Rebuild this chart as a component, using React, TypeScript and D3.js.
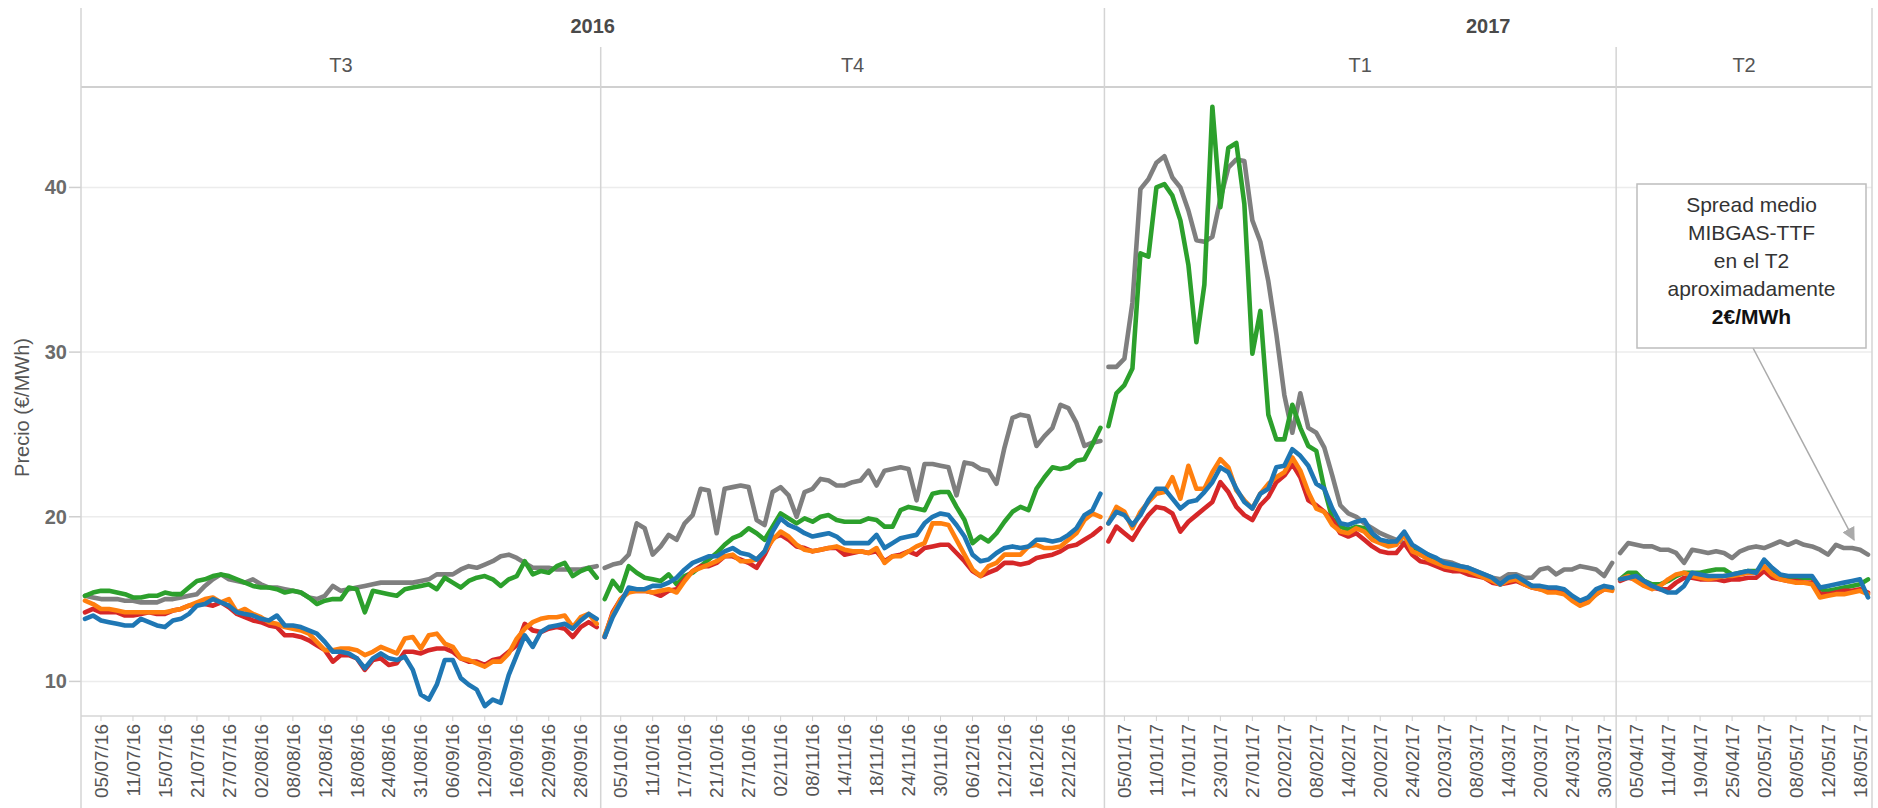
import React from 'react';
import * as d3 from 'd3';

// trimestres (paneles) y festivos sin cotización
const trimestres = [
  { anio: '2016', nombre: 'T3', inicio: '2016-07-01', fin: '2016-09-30' },
  { anio: '2016', nombre: 'T4', inicio: '2016-10-03', fin: '2016-12-30' },
  { anio: '2017', nombre: 'T1', inicio: '2017-01-02', fin: '2017-03-31' },
  { anio: '2017', nombre: 'T2', inicio: '2017-04-03', fin: '2017-05-19' },
];
const festivos = ['2016-08-29', '2016-12-26', '2016-12-27', '2017-01-02', '2017-04-14', '2017-04-17', '2017-05-01'];

const etiquetasX = [
  '05/07/16', '11/07/16', '15/07/16', '21/07/16', '27/07/16', '02/08/16', '08/08/16', '12/08/16',
  '18/08/16', '24/08/16', '31/08/16', '06/09/16', '12/09/16', '16/09/16', '22/09/16', '28/09/16',
  '05/10/16', '11/10/16', '17/10/16', '21/10/16', '27/10/16', '02/11/16', '08/11/16', '14/11/16',
  '18/11/16', '24/11/16', '30/11/16', '06/12/16', '12/12/16', '16/12/16', '22/12/16',
  '05/01/17', '11/01/17', '17/01/17', '23/01/17', '27/01/17', '02/02/17', '08/02/17', '14/02/17',
  '20/02/17', '24/02/17', '02/03/17', '08/03/17', '14/03/17', '20/03/17', '24/03/17', '30/03/17',
  '05/04/17', '11/04/17', '19/04/17', '25/04/17', '02/05/17', '08/05/17', '12/05/17', '18/05/17',
];
const ticksY = [10, 20, 30, 40];

// valores diarios (€/MWh) por trimestre
const grisT3 = [15.2,15.1,15.0,15.0,15.0,14.9,14.9,14.8,14.8,14.8,15.0,15.0,15.1,15.2,15.3,15.8,16.2,16.5,16.2,16.1,16.0,16.2,15.9,15.7,15.7,15.6,15.5,15.4,15.1,15.0,15.2,15.8,15.5,15.6,15.7,15.8,15.9,16.0,16.0,16.0,16.0,16.0,16.1,16.2,16.5,16.5,16.5,16.8,17.0,16.9,17.1,17.3,17.6,17.7,17.5,17.2,16.9,16.9,16.9,16.8,16.8,16.8,16.8,16.9,17.0];
const verdeT3 = [15.2,15.4,15.5,15.5,15.4,15.3,15.1,15.1,15.2,15.2,15.4,15.3,15.3,15.7,16.1,16.2,16.4,16.5,16.4,16.2,16.0,15.8,15.7,15.7,15.6,15.4,15.5,15.4,15.1,14.7,14.9,15.0,15.0,15.7,15.6,14.2,15.5,15.4,15.3,15.2,15.6,15.7,15.8,15.9,15.6,16.3,16.0,15.7,16.1,16.3,16.4,16.2,15.8,16.2,16.4,17.3,16.5,16.7,16.6,17.0,17.2,16.4,16.7,16.9,16.3];
const rojoT3 = [14.2,14.4,14.2,14.2,14.2,14.0,14.0,14.1,14.2,14.1,14.1,14.3,14.4,14.6,14.7,14.7,14.6,14.8,14.5,14.1,13.9,13.7,13.6,13.4,13.3,12.8,12.8,12.7,12.5,12.2,11.9,11.2,11.6,11.6,11.4,10.7,11.3,11.4,11.0,11.1,11.8,11.8,11.7,11.9,12.0,12.0,11.8,11.4,11.2,11.2,11.0,11.3,11.4,11.8,12.2,13.5,13.1,13.0,13.2,13.3,13.2,12.7,13.3,13.6,13.3];
const naranjaT3 = [14.9,14.7,14.4,14.4,14.3,14.2,14.2,14.2,14.2,14.2,14.2,14.3,14.4,14.6,14.8,15.0,15.1,14.8,15.0,14.2,14.4,14.1,13.9,13.6,13.5,13.3,13.2,13.1,12.9,12.4,11.9,11.9,12.0,12.0,11.9,11.6,11.8,12.1,11.9,11.7,12.6,12.7,12.0,12.8,12.9,12.3,12.1,11.4,11.3,11.1,10.9,11.2,11.2,11.7,12.6,13.2,13.6,13.8,13.9,13.9,14.0,13.3,13.9,14.1,13.5];
const azulT3 = [13.8,14.0,13.7,13.6,13.5,13.4,13.4,13.8,13.6,13.4,13.3,13.7,13.8,14.1,14.6,14.7,15.0,14.8,14.6,14.2,14.1,14.0,13.8,13.7,14.0,13.4,13.4,13.3,13.1,12.9,12.4,11.8,11.8,11.7,11.4,10.8,11.4,11.7,11.4,11.3,11.5,10.7,9.2,8.9,9.8,11.3,11.3,10.2,9.8,9.5,8.5,8.9,8.7,10.4,11.6,12.8,12.1,13.0,13.3,13.4,13.5,13.2,13.7,14.1,13.8];

const grisT4 = [16.9,17.1,17.2,17.7,19.6,19.3,17.7,18.2,18.9,18.6,19.6,20.1,21.7,21.6,19.0,21.7,21.8,21.9,21.8,19.8,19.5,21.5,21.8,21.3,20.0,21.5,21.7,22.3,22.2,21.9,21.9,22.1,22.2,22.8,21.9,22.8,22.9,23.0,22.9,21.0,23.2,23.2,23.1,23.0,21.3,23.3,23.2,22.9,22.8,22.0,24.2,26.0,26.2,26.1,24.3,24.9,25.4,26.8,26.6,25.7,24.3,24.5,24.6];
const verdeT4 = [15.0,16.1,15.5,17.0,16.6,16.3,16.2,16.1,16.5,15.9,16.4,16.6,17.0,17.4,17.8,18.3,18.7,18.9,19.3,19.0,18.6,19.4,20.2,19.9,19.6,19.9,19.7,20.0,20.1,19.8,19.7,19.7,19.7,19.9,19.8,19.4,19.4,20.4,20.6,20.5,20.4,21.4,21.5,21.5,20.6,19.8,18.4,18.8,18.5,19.0,19.7,20.3,20.6,20.4,21.7,22.4,23.0,22.9,23.0,23.4,23.5,24.4,25.4];
const rojoT4 = [12.7,14.2,15.0,15.5,15.5,15.5,15.4,15.2,15.5,15.6,16.2,16.7,17.0,17.0,17.2,17.6,17.6,17.4,17.2,16.9,17.7,18.7,18.9,18.6,18.2,18.1,17.9,18.0,18.1,18.1,17.7,17.8,17.9,17.8,17.9,17.3,17.6,17.7,17.9,17.7,18.1,18.2,18.3,18.3,17.8,17.3,16.7,16.4,16.6,16.8,17.2,17.2,17.1,17.2,17.5,17.6,17.7,17.9,18.2,18.3,18.6,18.9,19.3];
const naranjaT4 = [12.8,14.1,15.0,15.4,15.5,15.5,15.4,15.5,15.6,15.4,16.1,16.7,16.9,17.1,17.3,17.6,17.7,17.3,17.3,17.4,17.9,18.6,19.1,18.8,18.3,18.0,17.9,18.0,18.1,18.2,18.0,17.9,17.9,17.8,18.1,17.2,17.6,17.6,17.9,18.2,18.4,19.6,19.6,19.5,18.6,17.7,16.8,16.4,17.0,17.2,17.7,17.7,17.7,18.2,18.3,18.1,18.1,18.2,18.6,19.0,19.8,20.2,20.0];
const azulT4 = [12.7,13.9,14.8,15.7,15.6,15.6,15.8,15.8,16.0,16.3,16.8,17.2,17.4,17.6,17.6,17.9,18.1,17.8,17.7,17.4,17.9,19.1,19.9,19.5,19.3,19.0,18.8,18.9,19.0,18.8,18.4,18.4,18.4,18.4,18.9,18.1,18.4,18.7,18.8,18.9,19.6,20.0,20.2,20.1,19.5,18.8,17.7,17.3,17.4,17.8,18.1,18.2,18.1,18.2,18.6,18.6,18.5,18.6,18.9,19.3,20.1,20.4,21.4];

const grisT1 = [29.1,29.1,29.6,33.0,39.9,40.5,41.5,41.9,40.6,40.0,38.6,36.8,36.7,37.0,39.3,41.2,41.7,41.6,38.0,36.7,34.3,31.1,27.4,25.1,27.5,25.4,25.1,24.2,22.5,20.7,20.2,20.0,19.6,19.3,19.0,18.8,18.6,18.4,18.1,17.9,17.7,17.4,17.3,17.2,17.0,16.9,16.7,16.5,16.3,16.2,16.5,16.5,16.3,16.3,16.8,16.9,16.5,16.8,16.8,17.0,16.9,16.8,16.4,17.2];
const verdeT1 = [25.5,27.5,28.0,29.0,36.0,35.8,40.0,40.2,39.5,38.0,35.3,30.6,34.1,44.9,38.8,42.4,42.7,39.0,29.9,32.5,26.2,24.7,24.7,26.8,25.4,24.3,24.0,21.7,19.9,19.4,19.2,19.4,19.3,18.8,18.5,18.3,18.4,18.9,18.0,17.7,17.5,17.3,17.1,17.0,16.9,16.8,16.6,16.4,16.2,15.9,16.2,16.2,16.0,15.8,15.7,15.5,15.5,15.4,15.0,14.7,14.9,15.3,15.7,15.6];
const rojoT1 = [18.5,19.4,19.0,18.6,19.4,20.1,20.6,20.5,20.2,19.1,19.7,20.1,20.5,20.9,22.1,21.5,20.6,20.1,19.8,20.7,21.2,22.1,22.5,23.2,22.4,21.0,20.7,20.3,19.8,19.0,18.8,19.0,18.6,18.2,17.9,17.8,17.8,18.4,17.7,17.3,17.2,17.0,16.8,16.7,16.7,16.5,16.4,16.3,16.0,15.9,16.0,16.1,15.9,15.7,15.6,15.5,15.5,15.4,15.1,14.7,14.9,15.3,15.6,15.6];
const naranjaT1 = [19.6,20.6,20.3,19.3,20.3,20.9,21.4,21.5,22.4,21.1,23.1,21.7,21.7,22.7,23.5,23.0,21.6,21.0,20.5,21.4,22.0,22.4,22.7,23.6,22.8,21.5,20.5,20.3,19.5,19.1,19.0,19.3,19.1,18.6,18.4,18.2,18.3,18.9,17.9,17.7,17.4,17.2,17.0,16.9,16.8,16.7,16.5,16.3,16.1,15.9,16.1,16.2,15.9,15.7,15.6,15.4,15.4,15.3,14.9,14.6,14.8,15.3,15.6,15.5];
const azulT1 = [19.6,20.3,20.1,19.5,20.1,21.0,21.7,21.7,21.1,20.5,20.9,21.0,21.5,22.1,23.0,22.7,21.7,20.9,20.5,21.4,21.7,23.0,23.1,24.1,23.7,23.1,22.0,21.7,20.5,19.6,19.5,19.7,19.8,19.0,18.6,18.5,18.5,19.1,18.3,18.0,17.7,17.5,17.2,17.1,17.0,16.9,16.7,16.5,16.3,15.9,16.3,16.4,16.1,15.8,15.8,15.7,15.7,15.6,15.2,14.9,15.1,15.6,15.8,15.7];

const grisT2 = [17.8,18.4,18.3,18.2,18.2,18.0,18.0,17.8,17.2,18.0,17.9,17.8,17.9,17.8,17.5,17.9,18.1,18.2,18.1,18.3,18.5,18.3,18.5,18.3,18.2,18.0,17.7,18.3,18.1,18.1,18.0,17.7];
const verdeT2 = [16.2,16.6,16.6,16.1,15.9,15.9,16.1,16.4,16.6,16.6,16.6,16.7,16.8,16.8,16.5,16.6,16.7,16.7,16.9,16.6,16.4,16.3,16.3,16.3,16.3,15.6,15.5,15.6,15.7,15.8,15.9,16.2];
const rojoT2 = [16.1,16.3,16.2,15.9,15.7,15.6,15.6,16.0,16.3,16.3,16.2,16.2,16.2,16.1,16.2,16.2,16.3,16.3,16.7,16.3,16.2,16.1,16.1,16.0,16.0,15.3,15.3,15.4,15.5,15.5,15.6,15.4];
const naranjaT2 = [16.2,16.4,16.1,15.8,15.6,15.8,16.2,16.5,16.6,16.4,16.3,16.2,16.3,16.4,16.4,16.5,16.6,16.6,17.0,16.5,16.2,16.1,16.0,16.0,15.9,15.1,15.2,15.3,15.3,15.4,15.5,15.3];
const azulT2 = [16.2,16.3,16.4,16.1,15.8,15.6,15.4,15.4,15.8,16.6,16.5,16.4,16.4,16.4,16.5,16.6,16.7,16.6,17.4,16.9,16.5,16.4,16.4,16.4,16.4,15.7,15.8,15.9,16.0,16.1,16.2,15.1];

const series = [
  { color: '#7f7f7f', datos: [grisT3, grisT4, grisT1, grisT2] },
  { color: '#2ca02c', datos: [verdeT3, verdeT4, verdeT1, verdeT2] },
  { color: '#d62728', datos: [rojoT3, rojoT4, rojoT1, rojoT2] },
  { color: '#ff7f0e', datos: [naranjaT3, naranjaT4, naranjaT1, naranjaT2] },
  { color: '#1f77b4', datos: [azulT3, azulT4, azulT1, azulT2] },
];

const notaLineas = ['Spread medio', 'MIBGAS-TTF', 'en el T2', 'aproximadamente'];
const notaDestacada = '2€/MWh';

function diasHabiles(inicio: string, fin: string): string[] {
  const out: string[] = [];
  const d = new Date(inicio + 'T12:00:00Z');
  const e = new Date(fin + 'T12:00:00Z');
  while (d <= e) {
    const iso = d.toISOString().slice(0, 10);
    const wd = d.getUTCDay();
    if (wd !== 0 && wd !== 6 && !festivos.includes(iso)) out.push(iso);
    d.setUTCDate(d.getUTCDate() + 1);
  }
  return out;
}
const fmt = (iso: string) => iso.slice(8, 10) + '/' + iso.slice(5, 7) + '/' + iso.slice(2, 4);

const FONT = '"Liberation Sans", Arial, sans-serif';
const W = 1878, H = 808;
const left = 81, right = 1872, plotTop = 87, plotBottom = 716;

export default function App() {
  const fechasPorT = trimestres.map(t => diasHabiles(t.inicio, t.fin));
  const todas = fechasPorT.flat();

  const x = d3.scaleBand<string>().domain(todas).range([left, right]).padding(0);
  const bw = x.bandwidth();
  const cx = (d: string) => (x(d) as number) + bw / 2;
  const y = d3.scaleLinear().domain([7.9, 46.1]).range([plotBottom, plotTop]);

  const bordes = fechasPorT.map(f => x(f[0]) as number).concat([right]);
  const linea = d3.line<[string, number]>().x(d => cx(d[0])).y(d => y(d[1]));

  const anios = d3.groups(trimestres.map((t, i) => ({ ...t, i })), t => t.anio).map(([anio, ts]) => ({
    anio,
    x0: bordes[ts[0].i],
    x1: bordes[ts[ts.length - 1].i + 1],
  }));

  const grid = '#ececec';
  const sep = '#d4d4d4';

  // flecha de la nota
  const box = { x0: 1637, x1: 1866, y0: 184, y1: 348 };
  const ax0 = 1753, ay0 = box.y1;
  const ax1 = cx(todas[todas.length - 3]) + 2, ay1 = y(18.6);

  return (
    <svg width={W} height={H} style={{ position: 'absolute', left: 0, top: 0, background: '#fff' }} fontFamily={FONT}>
      <defs>
        <marker id="punta" viewBox="0 0 10 10" refX="9" refY="5" markerWidth="9" markerHeight="9" orient="auto">
          <path d="M0,0 L10,5 L0,10 z" fill="#aaaaaa" />
        </marker>
      </defs>

      {/* rejilla */}
      {ticksY.map(t => (
        <g key={t}>
          <line x1={left} x2={right} y1={y(t)} y2={y(t)} stroke={grid} strokeWidth={1.5} />
          <line x1={left - 12} x2={left} y1={y(t)} y2={y(t)} stroke="#cfcfcf" strokeWidth={1.5} />
          <text x={left - 14} y={y(t)} dy="0.35em" textAnchor="end" fontSize={20} fontWeight="bold" fill="#6b6b6b">{t}</text>
        </g>
      ))}

      {/* cabeceras */}
      {anios.map(a => (
        <text key={a.anio} x={(a.x0 + a.x1) / 2} y={26} dy="0.35em" textAnchor="middle" fontSize={20} fontWeight="bold" fill="#4a4a4a">{a.anio}</text>
      ))}
      {trimestres.map((t, i) => (
        <text key={t.nombre} x={(bordes[i] + bordes[i + 1]) / 2} y={65} dy="0.35em" textAnchor="middle" fontSize={20} fill="#555">{t.nombre}</text>
      ))}

      {/* separadores */}
      <line x1={left} x2={right} y1={plotTop} y2={plotTop} stroke="#d0d0d0" strokeWidth={2} />
      <line x1={left} x2={right} y1={plotBottom} y2={plotBottom} stroke="#d6d6d6" strokeWidth={1.5} />
      {bordes.map((b, i) => {
        const esAnio = i === 0 || i === bordes.length - 1 || trimestres[i - 1].anio !== trimestres[i].anio;
        return <line key={i} x1={b} x2={b} y1={esAnio ? 8 : 47} y2={H} stroke={sep} strokeWidth={1.5} />;
      })}

      {/* eje x */}
      {todas.filter(d => etiquetasX.includes(fmt(d))).map(d => (
        <g key={d}>
          <line x1={cx(d)} x2={cx(d)} y1={plotBottom} y2={plotBottom + 5} stroke="#d0d0d0" strokeWidth={1} />
          <text transform={`translate(${cx(d)},${plotBottom + 8}) rotate(-90)`} dy="0.35em" textAnchor="end" fontSize={19} fill="#555">{fmt(d)}</text>
        </g>
      ))}

      <text transform={`translate(29,${(plotTop + plotBottom) / 2 + 6}) rotate(-90)`} textAnchor="middle" fontSize={20} fill="#555">Precio (€/MWh)</text>

      {/* líneas */}
      {series.map((s, si) => (
        <g key={si}>
          {s.datos.map((vals, ti) => (
            <path key={ti}
              d={linea(fechasPorT[ti].map((f, k) => [f, vals[k]] as [string, number]).filter(p => p[1] != null)) || ''}
              fill="none" stroke={s.color} strokeWidth={4.6} strokeLinejoin="round" strokeLinecap="round" />
          ))}
        </g>
      ))}

      {/* nota */}
      <line x1={ax0} y1={ay0} x2={ax1} y2={ay1} stroke="#aaaaaa" strokeWidth={1.5} markerEnd="url(#punta)" />
      <rect x={box.x0} y={box.y0} width={box.x1 - box.x0} height={box.y1 - box.y0} fill="#fff" stroke="#bdbdbd" strokeWidth={1.5} />
      {notaLineas.map((l, i) => (
        <text key={i} x={(box.x0 + box.x1) / 2} y={205 + i * 28} dy="0.35em" textAnchor="middle" fontSize={21} fill="#333">{l}</text>
      ))}
      <text x={(box.x0 + box.x1) / 2} y={205 + 4 * 28} dy="0.35em" textAnchor="middle" fontSize={21} fontWeight="bold" fill="#111">{notaDestacada}</text>
    </svg>
  );
}
